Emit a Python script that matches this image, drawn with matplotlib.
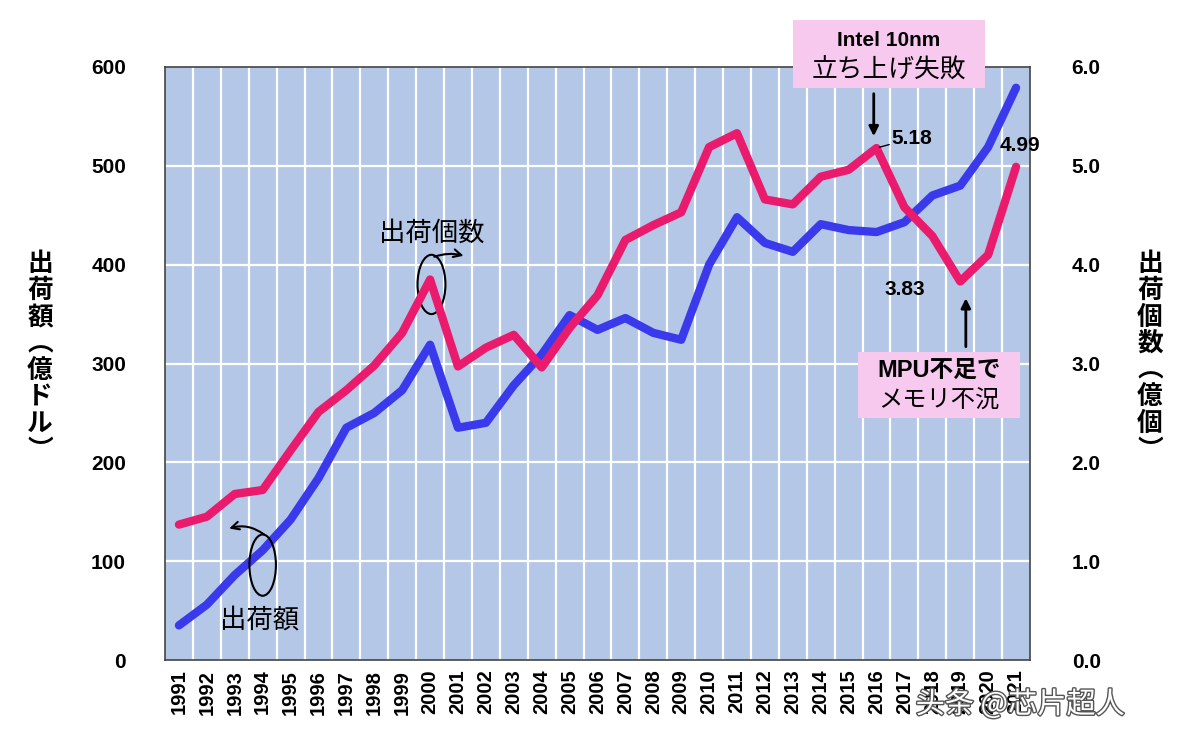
import matplotlib
matplotlib.use("Agg")
import matplotlib.pyplot as plt
import matplotlib.patheffects as pe
from matplotlib.patches import Ellipse, Rectangle
import numpy as np

plt.rcParams['font.family'] = ['Liberation Sans', 'Noto Sans CJK JP', 'DejaVu Sans']

years = [str(y) for y in range(1991, 2022)]
value_usd = [35, 56, 86, 111, 142, 184, 235, 250, 273, 319,
             235, 240, 278, 309, 349, 334, 346, 331, 324, 400,
             448, 422, 413, 441, 435, 433, 443, 470, 480, 519, 579]
units = [1.37, 1.45, 1.68, 1.72, 2.12, 2.51, 2.73, 2.98, 3.31, 3.85,
         2.97, 3.16, 3.29, 2.96, 3.36, 3.69, 4.25, 4.40, 4.53, 5.19,
         5.33, 4.66, 4.61, 4.89, 4.96, 5.18, 4.58, 4.29, 3.83, 4.10, 4.99]
left_ticks = [0, 100, 200, 300, 400, 500, 600]
right_ticks = [0.0, 1.0, 2.0, 3.0, 4.0, 5.0, 6.0]

BLUE = '#3a3aec'
RED = '#ea1a6c'
BG = '#b4c7e7'
PINK = '#f7c9ef'
CJK = ['Noto Sans CJK JP', 'DejaVu Sans']

fig = plt.figure(figsize=(11.8, 7.4), dpi=100)
ax = fig.add_axes([165/1180, 80/740, 865/1180, 593/740])
x = np.arange(len(years))

ax.set_facecolor(BG)
ax.set_xlim(-0.5, len(years) - 0.5)
ax.set_ylim(0, 600)
ax.set_yticks(left_ticks)
ax.set_yticklabels([str(t) for t in left_ticks], fontsize=15, fontweight='bold')
ax.set_xticks(x)
ax.set_xticklabels(years, rotation=90, fontsize=14.5, fontweight='bold')
ax.tick_params(axis='both', which='both', length=0)
ax.tick_params(axis='y', pad=28)
ax.tick_params(axis='x', pad=7)
ax.grid(False)
for t in left_ticks[1:-1]:
    ax.axhline(t, color='white', lw=1.6, zorder=1)
for xv in x[:-1] + 0.5:
    ax.axvline(xv, color='white', lw=1.6, zorder=1)
for s in ax.spines.values():
    s.set_color('#444444')
    s.set_linewidth(1.2)

ax.plot(x, value_usd, color=BLUE, lw=6, solid_capstyle='round', solid_joinstyle='round', zorder=3)

ax2 = ax.twinx()
ax2.set_ylim(0, 6)
ax2.set_yticks(right_ticks)
ax2.set_yticklabels([f'{t:.1f}' for t in right_ticks], fontsize=15, fontweight='bold')
ax2.tick_params(axis='y', length=0, pad=30)
for s in ax2.spines.values():
    s.set_visible(False)
ax2.plot(x, units, color=RED, lw=6, solid_capstyle='round', solid_joinstyle='round', zorder=3)

# axis labels (vertical stacked text)
fig.text(40/1180, 1 - 357/740, '\n'.join('出荷額︵億ドル︶'), family=CJK, fontsize=18.5,
         fontweight='bold', ha='center', va='center', linespacing=0.98)
fig.text(1150/1180, 1 - 357/740, '\n'.join('出荷個数︵億個︶'), family=CJK, fontsize=18.5,
         fontweight='bold', ha='center', va='center', linespacing=0.98)

# value labels
i16 = years.index('2016'); i19 = years.index('2019'); i21 = years.index('2021')
ax2.annotate(f'{units[i16]:.2f}', xy=(x[i16], units[i16]), xytext=(x[i16] + 0.55, units[i16] + 0.10),
             fontsize=15, fontweight='bold', ha='left', va='center',
             arrowprops=dict(arrowstyle='-', color='black', lw=1, shrinkA=0, shrinkB=2))
ax2.text(x[i21] - 0.6, units[i21] + 0.22, f'{units[i21]:.2f}', fontsize=15, fontweight='bold',
         ha='left', va='center')
ax2.text(x[i19] - 2.0, units[i19] - 0.08, f'{units[i19]:.2f}', fontsize=15, fontweight='bold',
         ha='center', va='center')

# Intel annotation
ax2.annotate('', xy=(x[i16] - 0.1, units[i16] + 0.12), xytext=(x[i16] - 0.1, 5.73),
             arrowprops=dict(arrowstyle='-|>', color='black', lw=2, mutation_scale=14, shrinkA=0, shrinkB=0))
fig.text(889/1180, 1 - 40/740, 'Intel 10nm', fontsize=15, fontweight='bold', ha='center', va='center')
fig.text(889/1180, 1 - 71/740, '立ち上げ失敗', family=CJK, fontsize=18.5, ha='center', va='center')
fig.patches.append(Rectangle((793/1180, 1 - 88/740), 192/1180, 68/740,
                   transform=fig.transFigure, facecolor=PINK, edgecolor='none', zorder=0.5))

# MPU annotation
ax2.annotate('', xy=(x[i19] + 0.2, units[i19] - 0.17), xytext=(x[i19] + 0.2, 3.17),
             arrowprops=dict(arrowstyle='-|>', color='black', lw=2, mutation_scale=14, shrinkA=0, shrinkB=0))
fig.text(939/1180, 1 - 370/740, 'MPU不足で', family=['Liberation Sans', 'Noto Sans CJK JP'],
         fontsize=17, ha='center', va='center', fontweight='bold')
fig.text(939/1180, 1 - 401/740, 'メモリ不況', family=CJK, fontsize=17.5, ha='center', va='center')
fig.patches.append(Rectangle((858/1180, 1 - 418/740), 162/1180, 66/740,
                   transform=fig.transFigure, facecolor=PINK, edgecolor='none', zorder=0.5))

# series callouts
i00 = years.index('2000'); i94 = years.index('1994')
ax.add_patch(Ellipse((x[i00] + 0.05, 380), 1.0, 60, fill=False, edgecolor='black', lw=1.5, zorder=4))
ax.annotate('', xy=(x[i00] + 1.2, 409), xytext=(x[i00] + 0.15, 408),
            arrowprops=dict(arrowstyle='->', color='black', lw=1.5, mutation_scale=14,
                            connectionstyle='arc3,rad=-0.15', shrinkA=0, shrinkB=0), zorder=4)
ax.text(x[i00] + 0.05, 432, '出荷個数', family=CJK, fontsize=19, ha='center', va='center', zorder=4)

ax.add_patch(Ellipse((x[i94], 96), 0.95, 62, fill=False, edgecolor='black', lw=1.5, zorder=4))
ax.annotate('', xy=(x[i94] - 1.2, 133), xytext=(x[i94] + 0.05, 127),
            arrowprops=dict(arrowstyle='->', color='black', lw=1.5, mutation_scale=14,
                            connectionstyle='arc3,rad=0.25', shrinkA=0, shrinkB=0), zorder=4)
ax.text(x[i94] - 0.1, 40, '出荷額', family=CJK, fontsize=19, ha='center', va='center', zorder=4)

# watermark
fig.text(1020/1180, 1 - 705/740, '头条 @芯片超人', family=['Noto Sans CJK SC', 'DejaVu Sans'],
         fontsize=21, color='white', ha='center', va='center', zorder=10,
         path_effects=[pe.withStroke(linewidth=2, foreground='#555555')])

fig.savefig('out.png', dpi=100)
